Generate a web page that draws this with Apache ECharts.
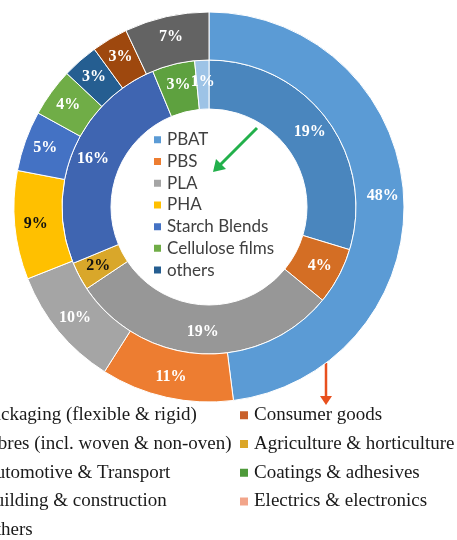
<!DOCTYPE html>
<html>
<head>
<meta charset="utf-8">
<style>
  html, body { margin: 0; padding: 0; background: #fff; }
  #main { width: 457px; height: 540px; }
</style>
<script src="https://cdn.jsdelivr.net/npm/echarts@6/dist/echarts.min.js"></script>
</head>
<body>
<div id="main"></div>
<script>
// inner ring: polymer types
var innerNames = ['PBAT', 'PBS', 'PLA', 'PHA', 'Starch Blends', 'Cellulose films', 'others'];
var innerValues = [19, 4, 19, 2, 16, 3, 1];

// outer ring: application fields
var outerNames = ['Packaging (flexible & rigid)', 'Consumer goods', 'Fibres (incl. woven & non-oven)',
  'Agriculture & horticulture', 'Automotive & Transport', 'Coatings & adhesives',
  'Building & construction', 'Electrics & electronics', 'Others'];
var outerValues = [48, 11, 10, 9, 5, 4, 3, 3, 7];

var innerColors = ['#4A86BE', '#D46E24', '#979797', '#D9A72A', '#3F65B1', '#5EA13F', '#9DC3E6'];
var innerLegendColors = ['#5B9BD5', '#ED7D31', '#A5A5A5', '#FFC000', '#4472C4', '#70AD47', '#255E91'];
var outerColors = ['#5B9BD5', '#ED7D31', '#A5A5A5', '#FFC000', '#4472C4', '#70AD47', '#255E91', '#9E480E', '#636363'];
var outerLegendColors = ['#5B9BD5', '#C9602A', '#ED7D31', '#DBA628', '#A5A5A5', '#4E9A3A', '#4472C4', '#F2A58A', '#636363'];

var myChart = echarts.init(document.getElementById('main'));

function makeData(names, values, colors, darkLabel) {
  return names.map(function (n, i) {
    return {
      name: n,
      value: values[i],
      itemStyle: { color: colors[i] },
      label: { color: darkLabel.indexOf(n) >= 0 ? '#111' : '#fff' }
    };
  });
}

function legendData(names, colors, pick) {
  return pick.map(function (i) {
    return { name: names[i], itemStyle: { color: colors[i] } };
  });
}

var labelStyle = {
  show: true,
  position: 'inside',
  formatter: '{c}%',
  fontFamily: '"Liberation Serif", "Times New Roman", serif',
  fontWeight: 'bold',
  fontSize: 16
};

var option = {
  animation: false,
  legend: [
    {
      // inside the hole
      orient: 'vertical',
      left: 152,
      top: 129,
      padding: 0,
      itemGap: 0,
      itemWidth: 9,
      itemHeight: 9,
      icon: 'rect',
      selectedMode: false,
      textStyle: { fontFamily: 'Lato, "Liberation Sans", sans-serif', fontSize: 17, color: '#404040', lineHeight: 21.7 },
      data: legendData(innerNames, innerLegendColors, [0, 1, 2, 3, 4, 5, 6])
    },
    {
      // left column (clipped by the page edge)
      orient: 'vertical',
      left: -34,
      top: 401,
      height: 200,
      padding: 0,
      itemGap: 0,
      itemWidth: 10,
      itemHeight: 10,
      icon: 'rect',
      selectedMode: false,
      textStyle: { fontFamily: '"Liberation Serif", "Times New Roman", serif', fontSize: 19, color: '#1a1a1a', lineHeight: 28.7 },
      data: legendData(outerNames, outerLegendColors, [0, 2, 4, 6, 8])
    },
    {
      orient: 'vertical',
      left: 238,
      top: 401,
      height: 200,
      padding: 0,
      itemGap: 0,
      itemWidth: 10,
      itemHeight: 10,
      icon: 'rect',
      selectedMode: false,
      textStyle: { fontFamily: '"Liberation Serif", "Times New Roman", serif', fontSize: 19, color: '#1a1a1a', lineHeight: 28.7 },
      data: legendData(outerNames, outerLegendColors, [1, 3, 5, 7])
    }
  ],
  series: [
    {
      name: 'Polymer',
      type: 'pie',
      center: [209, 207],
      radius: [98, 147],
      startAngle: 90,
      itemStyle: { borderColor: '#fff', borderWidth: 1 },
      label: labelStyle,
      labelLine: { show: false },
      emphasis: { disabled: true },
      data: makeData(innerNames, innerValues, innerColors, ['PHA'])
    },
    {
      name: 'Application',
      type: 'pie',
      center: [209, 207],
      radius: [147, 195],
      startAngle: 90,
      itemStyle: { borderColor: '#fff', borderWidth: 1 },
      label: labelStyle,
      labelLine: { show: false },
      emphasis: { disabled: true },
      data: makeData(outerNames, outerValues, outerColors, ['Agriculture & horticulture'])
    }
  ],
  graphic: [
    // green arrow in the hole
    { type: 'line', shape: { x1: 257, y1: 128, x2: 220, y2: 165 }, style: { stroke: '#22B04B', lineWidth: 3 } },
    { type: 'polygon', shape: { points: [[213, 172], [216, 159], [226, 169]] }, style: { fill: '#22B04B' } },
    // orange arrow below the ring
    { type: 'line', shape: { x1: 326, y1: 363, x2: 326, y2: 398 }, style: { stroke: '#E8501E', lineWidth: 2.5 } },
    { type: 'polygon', shape: { points: [[320, 396], [332, 396], [326, 405]] }, style: { fill: '#E8501E' } }
  ]
};

myChart.setOption(option);
</script>
</body>
</html>
